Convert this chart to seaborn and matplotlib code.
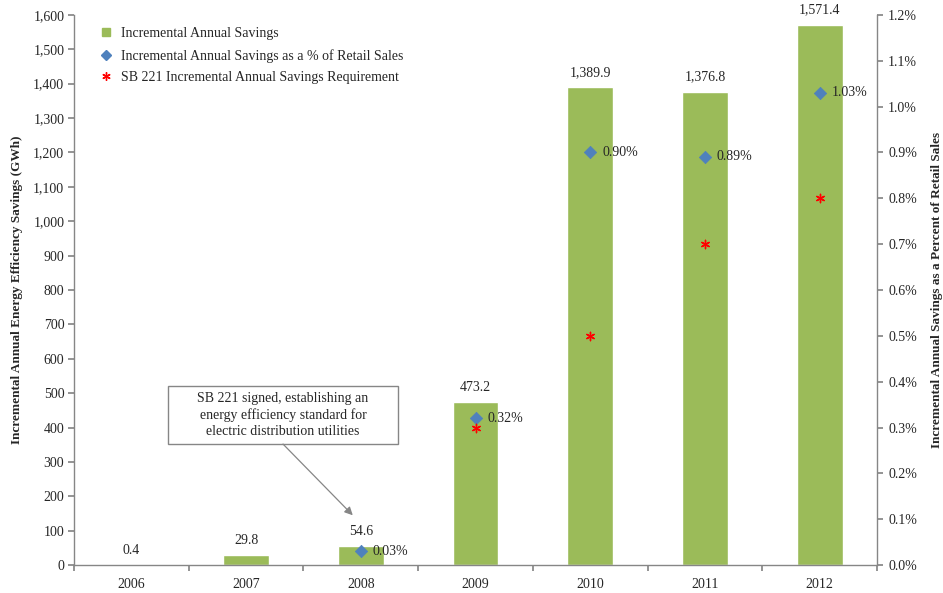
import numpy as np
import pandas as pd
import matplotlib
matplotlib.use("Agg")
import matplotlib.pyplot as plt
from matplotlib.ticker import FuncFormatter, MultipleLocator, FixedLocator, NullFormatter
from matplotlib.lines import Line2D
from matplotlib.patches import Rectangle
import seaborn as sns

years = ["2006", "2007", "2008", "2009", "2010", "2011", "2012"]
savings_gwh = [0.4, 29.8, 54.6, 473.2, 1389.9, 1376.8, 1571.4]
pct_retail = [np.nan, np.nan, 0.03, 0.32, 0.90, 0.89, 1.03]
sb221_req = [np.nan, np.nan, np.nan, 0.30, 0.50, 0.70, 0.80]

sns.set_theme(style="white")
plt.rcParams["font.family"] = ["Liberation Serif", "DejaVu Serif"]

GREEN = "#9BBB59"
BLUE = "#4F81BD"
RED = "#FF0000"
GREY = "#868686"
ASTERISK = (6, 2, 0)

df = pd.DataFrame({"year": years, "savings": savings_gwh,
                   "pct": pct_retail, "req": sb221_req})
df["pos"] = np.arange(len(df))

fig = plt.figure(figsize=(9.43, 5.93), dpi=100)
ax = fig.add_axes([0.0785, 0.047, 0.8515, 0.928])

sns.barplot(data=df, x="year", y="savings", color=GREEN, saturation=1,
            width=0.40, ax=ax, label="Incremental Annual Savings")
for p, v in zip(df["pos"], df["savings"]):
    ax.annotate(f"{v:,.1f}", xy=(p, v), xytext=(0, 6), textcoords="offset points",
                ha="center", va="bottom", fontsize=10)

ax.set_ylim(0, 1600)
ax.set_xlim(-0.5, len(years) - 0.5)
ax.yaxis.set_major_locator(MultipleLocator(100))
ax.yaxis.set_major_formatter(FuncFormatter(lambda v, _: f"{v:,.0f}"))
ax.set_xlabel("")
ax.set_ylabel("Incremental Annual Energy Efficiency Savings (GWh)",
              fontsize=9.5, fontweight="bold", labelpad=7)

# category labels centred, tick marks between categories
ax.xaxis.set_major_locator(FixedLocator(np.arange(-0.5, len(years), 1.0)))
ax.xaxis.set_major_formatter(NullFormatter())
ax.xaxis.set_minor_locator(FixedLocator(df["pos"].values))
ax.xaxis.set_minor_formatter(FuncFormatter(lambda v, i: years[int(round(v))]))
ax.tick_params(axis="x", which="major", length=4, color=GREY, direction="out", bottom=True)
ax.tick_params(axis="x", which="minor", length=0, labelsize=10, pad=9)
ax.tick_params(axis="y", length=4, color=GREY, direction="out", left=True, labelsize=10, pad=3)

ax2 = ax.twinx()
sns.scatterplot(data=df, x="pos", y="pct", marker="D", s=40, color=BLUE,
                edgecolor=BLUE, ax=ax2,
                label="Incremental Annual Savings as a % of Retail Sales", zorder=4)
sns.scatterplot(data=df, x="pos", y="req", marker=ASTERISK, s=36, color=RED,
                edgecolor=RED, linewidth=1.0, ax=ax2,
                label="SB 221 Incremental Annual Savings Requirement", zorder=4)
for p, v in zip(df["pos"], df["pct"]):
    if not np.isnan(v):
        ax2.text(p + 0.105, v, f"{v:.2f}%", ha="left", va="center", fontsize=10)

ax2.set_ylim(0, 1.2)
ax2.set_xlim(-0.5, len(years) - 0.5)
ax2.yaxis.set_major_locator(MultipleLocator(0.1))
ax2.yaxis.set_major_formatter(FuncFormatter(lambda v, _: f"{v:.1f}%"))
ax2.set_xlabel("")
ax2.set_ylabel("Incremental Annual Savings as a Percent of Retail Sales",
               fontsize=9.5, fontweight="bold", labelpad=10)
ax2.tick_params(axis="y", length=4, color=GREY, direction="out", right=True, labelsize=10, pad=4)

for a in (ax, ax2):
    a.spines["top"].set_visible(False)
    for s in ("left", "right", "bottom"):
        a.spines[s].set_color(GREY)
        a.spines[s].set_linewidth(1.0)
ax.spines["right"].set_visible(False)
ax2.spines["left"].set_visible(False)
ax2.spines["bottom"].set_visible(False)

# combined legend
h1, l1 = ax.get_legend_handles_labels()
h2, l2 = ax2.get_legend_handles_labels()
for a in (ax, ax2):
    if a.get_legend() is not None:
        a.get_legend().remove()
handles = [
    Line2D([], [], marker="s", linestyle="none", color=GREEN, markersize=6),
    Line2D([], [], marker="D", linestyle="none", color=BLUE, markersize=5),
    Line2D([], [], marker=ASTERISK, linestyle="none", color=RED, markersize=6,
           markeredgewidth=1.0),
]
labels = [l1[0], l2[0], l2[1]]
ax2.legend(handles, labels, loc="upper left", bbox_to_anchor=(0.015, 1.0),
           frameon=False, fontsize=10, handletextpad=0.6, labelspacing=0.62,
           handlelength=1.0)

# annotation for SB 221 signing: framed note with an arrow to the 2008 bar
note_x, note_y = 1.322, 436
ax.add_patch(Rectangle((0.32, 352), 2.005, 169, facecolor="white",
                       edgecolor=GREY, lw=1.0, zorder=5))
ax.text(note_x, note_y,
        "SB 221 signed, establishing an\nenergy efficiency standard for\nelectric distribution utilities",
        ha="center", va="center", fontsize=10, linespacing=1.3, zorder=6)
ax.annotate("", xy=(1.93, 145), xytext=(note_x, 352),
            arrowprops=dict(arrowstyle="-|>", color=GREY, lw=0.9,
                            shrinkA=0, shrinkB=0, mutation_scale=12), zorder=6)

fig.savefig("out.png", dpi=100)
